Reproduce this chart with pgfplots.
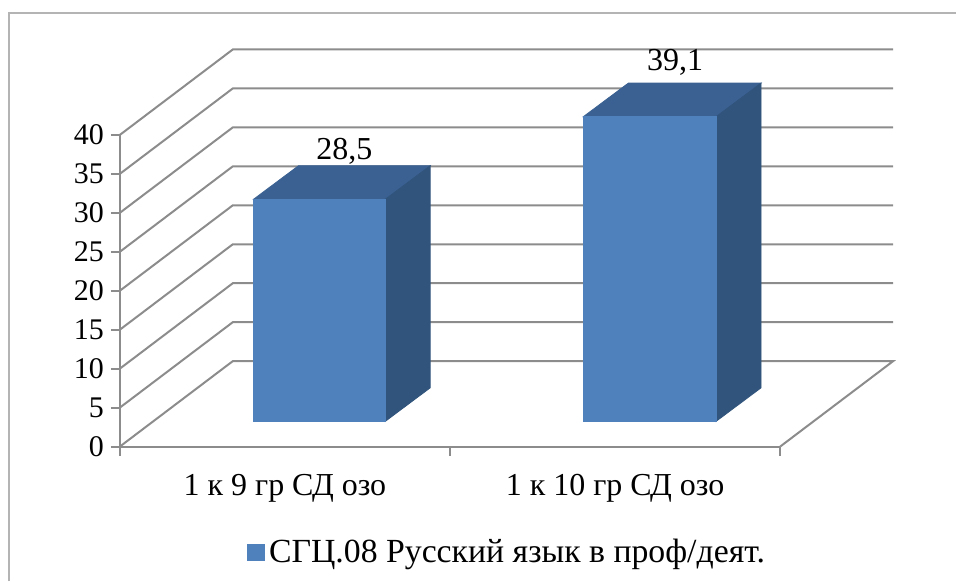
\documentclass[border=0pt]{standalone}
\usepackage{pgfplots}
\pgfplotsset{compat=1.18}
\usepackage{fontspec}
\setmainfont{Liberation Serif}
\definecolor{barfront}{HTML}{4F81BD}
\definecolor{bartop}{HTML}{3A6192}
\definecolor{barside}{HTML}{31547C}
\definecolor{wall}{HTML}{8C8C8C}
\definecolor{frame}{HTML}{B4B4B4}
\begin{document}
\begin{tikzpicture}[x=0.5pt,y=0.5pt]
\begin{axis}[
anchor=origin,
at={(0,0)},
scale only axis,
width=330.5pt, height=156pt,
xmin=0, xmax=2,
ymin=0, ymax=40,
clip=false,
axis y line=left, axis x line=bottom,
axis line style={draw=wall, line width=1pt, -},
tick style={draw=wall, line width=1pt},
major tick length=4.5pt,
tick align=outside,
xtick={0,1,2},
xticklabels={},
extra x ticks={0.5,1.5},
extra x tick labels={1 к 9 гр СД озо,1 к 10 гр СД озо},
extra x tick style={major tick length=0pt, tick label style={font=\fontsize{16}{18}\selectfont, yshift=-10.5pt}},
ytick={0,5,...,40},
tick label style={font=\fontsize{15}{18}\selectfont, text=black},
/pgf/number format/assume math mode=true,
legend style={at={(rel axis cs:0.588,-0.285)}, anchor=north, draw=none, fill=none,
  font=\fontsize{16.9}{20}\selectfont, inner sep=0pt, outer sep=0pt},
legend image code/.code={\fill[barfront] (0pt,-4pt) rectangle (8.5pt,4pt);},
legend cell align=left,
]
% walls
\addplot[wall, line width=1pt, forget plot] coordinates {(0,0) (0.342,10.96) (2.342,10.96) (2,0)};
\addplot[wall, line width=1pt, forget plot] coordinates {(0,5) (0.342,15.96) (2.342,15.96)};
\addplot[wall, line width=1pt, forget plot] coordinates {(0,10) (0.342,20.96) (2.342,20.96)};
\addplot[wall, line width=1pt, forget plot] coordinates {(0,15) (0.342,25.96) (2.342,25.96)};
\addplot[wall, line width=1pt, forget plot] coordinates {(0,20) (0.342,30.96) (2.342,30.96)};
\addplot[wall, line width=1pt, forget plot] coordinates {(0,25) (0.342,35.96) (2.342,35.96)};
\addplot[wall, line width=1pt, forget plot] coordinates {(0,30) (0.342,40.96) (2.342,40.96)};
\addplot[wall, line width=1pt, forget plot] coordinates {(0,35) (0.342,45.96) (2.342,45.96)};
\addplot[wall, line width=1pt, forget plot] coordinates {(0,40) (0.342,50.96) (2.342,50.96)};
% bar 1, value 28.5 standing on 3.24
\addplot[bartop, fill=bartop, forget plot] coordinates {(0.405,31.74) (0.804,31.74) (0.94,36.04) (0.541,36.04)} -- cycle;
\addplot[barside, fill=barside, forget plot] coordinates {(0.804,3.24) (0.94,7.54) (0.94,36.04) (0.804,31.74)} -- cycle;
\addplot[barfront, fill=barfront] coordinates {(0.405,3.24) (0.804,3.24) (0.804,31.74) (0.405,31.74)} -- cycle;
\addlegendentry{СГЦ.08 Русский язык в проф/деят.}
% bar 2, value 39.1
\addplot[bartop, fill=bartop, forget plot] coordinates {(1.404,42.34) (1.806,42.34) (1.942,46.64) (1.54,46.64)} -- cycle;
\addplot[barside, fill=barside, forget plot] coordinates {(1.806,3.24) (1.942,7.54) (1.942,46.64) (1.806,42.34)} -- cycle;
\addplot[barfront, fill=barfront, forget plot] coordinates {(1.404,3.24) (1.806,3.24) (1.806,42.34) (1.404,42.34)} -- cycle;
\node[anchor=south, font=\fontsize{16}{18}\selectfont, inner sep=0pt] at (axis cs:0.68,36.2) {28,5};
\node[anchor=south, font=\fontsize{16}{18}\selectfont, inner sep=0pt] at (axis cs:1.682,47.6) {39,1};
% picture frame: 957x585 with axis origin at (120,447) px
\draw[frame, line width=1pt] (axis cs:-0.336,-17.31) -- (axis cs:-0.336,55.7) -- (axis cs:2.5325,55.7);
\path[use as bounding box] (axis cs:-0.3631,-17.31) rectangle (axis cs:2.5325,57.31);
\end{axis}
\end{tikzpicture}
\end{document}
